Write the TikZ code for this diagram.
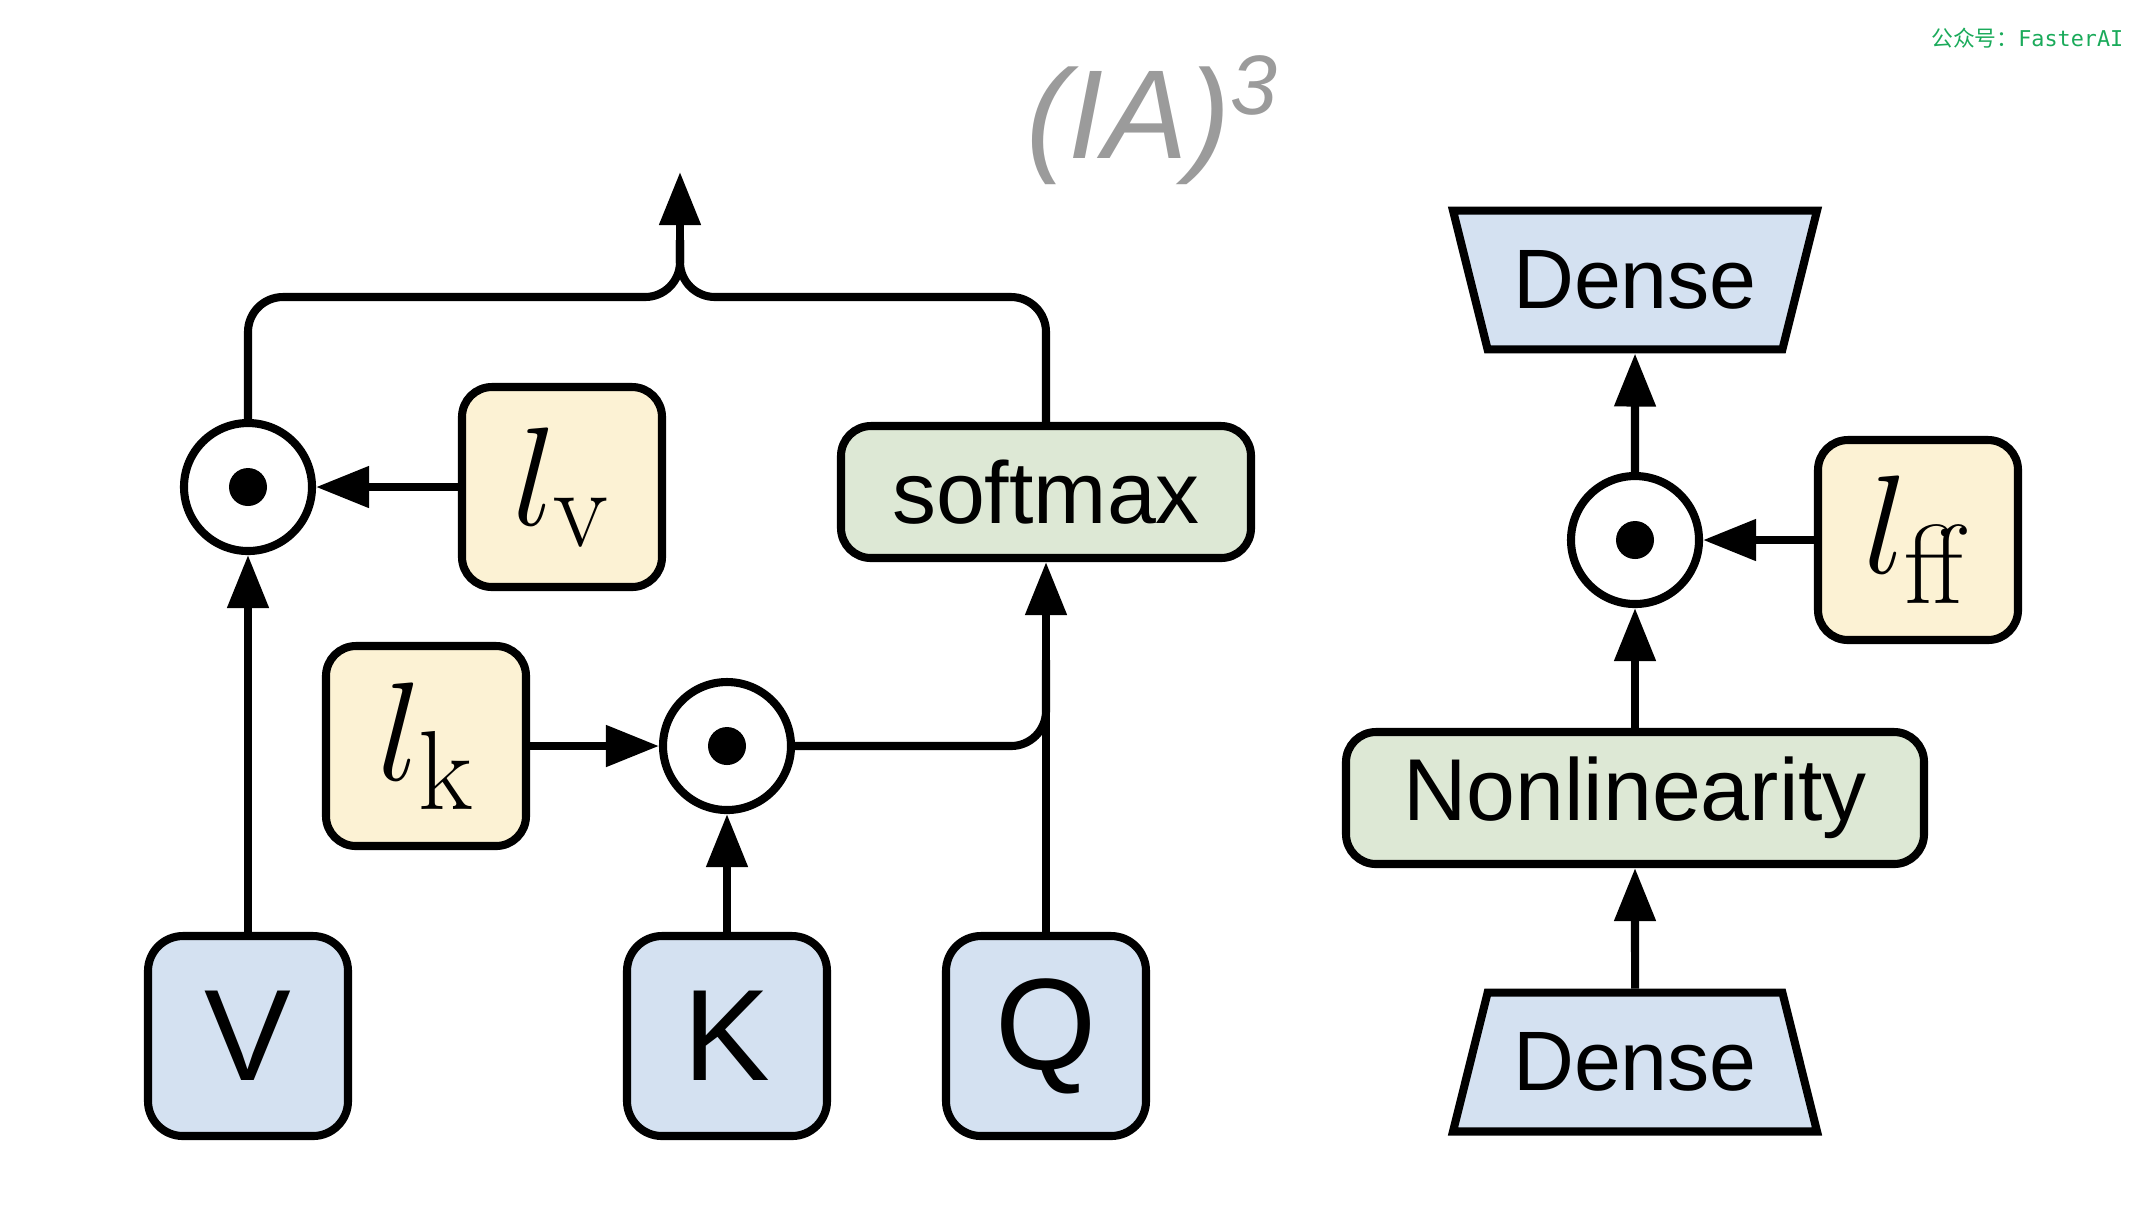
\RequirePackage{fix-cm}
\documentclass[tikz,border=0pt]{standalone}
\usepackage[no-math]{fontspec}
\setmainfont{Liberation Sans}
\newfontfamily\cjk{Noto Sans CJK SC}
\newfontfamily\mono{DejaVu Sans Mono}
\usetikzlibrary{arrows.meta,shapes.geometric}
\DeclareMathSizes{40}{40}{32}{28}
\definecolor{inblue}{RGB}{212,225,241}
\definecolor{gateyel}{RGB}{252,242,212}
\definecolor{opgreen}{RGB}{221,232,213}
\definecolor{titlegrey}{RGB}{155,155,155}
\definecolor{wmgreen}{RGB}{26,170,90}
\tikzset{
  edgeline/.style={draw, line width=2.3pt},
  inbox/.style={edgeline, fill=inblue, rounded corners=0.35cm, minimum size=2cm,
    font=\fontsize{37}{40}\selectfont},
  gate/.style={edgeline, fill=gateyel, rounded corners=0.3cm, minimum size=2cm,
    font=\fontsize{40}{44}\selectfont},
  opbox/.style={edgeline, fill=opgreen, rounded corners=0.3cm, minimum height=1.32cm,
    font=\fontsize{25}{28}\selectfont},
  mult/.style={edgeline, circle, fill=white, minimum size=1.28cm, inner sep=0pt},
  dense/.style={edgeline, fill=inblue, trapezium, trapezium left angle=76,
    trapezium right angle=76, trapezium stretches body=true, inner xsep=0pt,
    inner ysep=0.40cm, minimum width=3.64cm, font=\fontsize{24}{28}\selectfont},
  wire/.style={line width=2.3pt},
  >={Triangle[length=5.3mm,width=4mm]}
}
\begin{document}
\begin{tikzpicture}
\useasboundingbox (0,0) rectangle (21.42,-12.08);
% заголовок
\node[anchor=base, text=titlegrey] (title) at (11.52,-1.58)
  {\fontsize{36}{40}\selectfont\itshape (IA)\raisebox{0.44cm}{\fontsize{24}{28}\selectfont 3}};
\node[anchor=east, text=wmgreen, inner sep=0pt] (wm) at (21.24,-0.38)
  {\fontsize{6.2}{8}\selectfont\cjk 公众号：\mono FasterAI};
%входы
\foreach \n/\x in {V/2.48,K/7.27,Q/10.46}
  \node[inbox] (\n) at (\x,-10.36) {\n};
%векторы
\node[gate] (lv) at (5.62,-4.87) {$l_{\mathrm{v}}$};
\node[gate] (lk) at (4.26,-7.46) {$l_{\mathrm{k}}$};
\node[gate] (lff) at (19.18,-5.40) {$l_{\mathrm{ff}}$};
%умножения
\node[mult] (mv) at (2.48,-4.87) {};
\node[mult] (mk) at (7.27,-7.46) {};
\node[mult] (mf) at (16.35,-5.40) {};
\foreach \m in {mv,mk,mf}
  \fill (\m) circle (0.19);
%блоки
\node[opbox, minimum width=4.1cm] (sm) at (10.46,-4.92) {softmax};
\node[opbox, minimum width=5.78cm] (nl) at (16.35,-7.98) {Nonlinearity};
\node[dense] (d1) at (16.35,-10.62) {Dense};
\node[dense, trapezium left angle=104, trapezium right angle=104] (d2) at (16.35,-2.80) {Dense};
%связи
\coordinate (top) at (6.80,-1.72);
\coordinate (fork) at (6.80,-2.97);
\coordinate (stem) at (6.80,-2.40);
\coordinate (qj) at (10.46,-6.60);
\draw[wire,->] (V) -- (mv);
\draw[wire,->] (lv) -- (mv);
\draw[wire,->] (lk) -- (mk);
\draw[wire,->] (K) -- (mk);
\draw[wire,->] (Q) -- (sm);
\draw[wire,rounded corners=0.35cm] (mk) -| (qj);
\draw[wire,rounded corners=0.35cm] (mv) |- (fork) -- (stem);
\draw[wire,rounded corners=0.35cm] (sm) |- (fork) -- (stem);
\draw[wire,->] (stem) -- (top);
\draw[wire,->] (d1) -- (nl);
\draw[wire,->] (nl) -- (mf);
\draw[wire,->] (lff) -- (mf);
\draw[wire,->] (mf) -- (d2);
\end{tikzpicture}
\end{document}
